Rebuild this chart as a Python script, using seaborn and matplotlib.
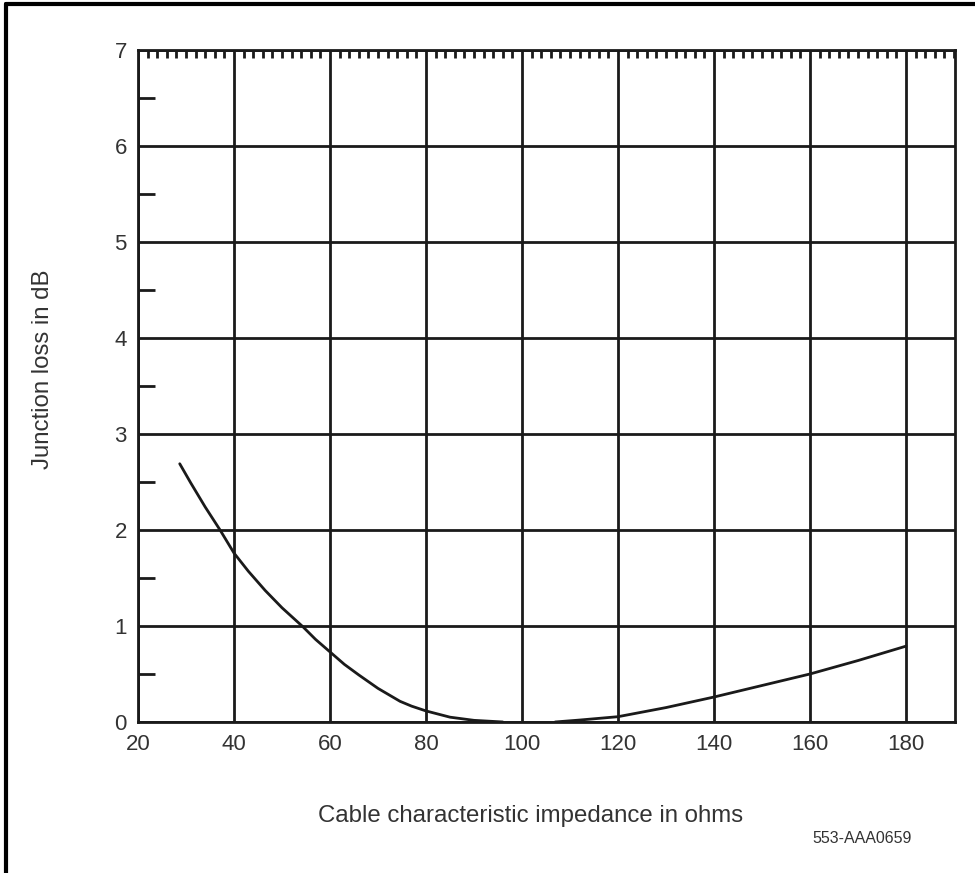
import matplotlib
matplotlib.use('Agg')
import matplotlib.pyplot as plt
import pandas as pd
import seaborn as sns
from matplotlib.lines import Line2D
from matplotlib.ticker import MultipleLocator

# Junction loss curve (two pieces, gap near 100 ohms)
low_ohms = [28.7, 31, 34, 37.1, 40, 43, 46.5, 50, 54.4, 57, 60, 63, 66, 70, 74.6, 77, 80, 85, 90, 96]
low_loss = [2.69, 2.49, 2.24, 2.0, 1.76, 1.57, 1.37, 1.19, 0.99, 0.86, 0.73, 0.6, 0.49, 0.35, 0.215, 0.165, 0.115, 0.05, 0.017, 0.0]
high_ohms = [106.9, 112, 120, 130, 140, 150, 160, 170, 180]
high_loss = [0.0, 0.02, 0.055, 0.15, 0.26, 0.38, 0.5, 0.64, 0.79]

x_ticks = [20, 40, 60, 80, 100, 120, 140, 160, 180]
y_ticks = [0, 1, 2, 3, 4, 5, 6, 7]

df_low = pd.DataFrame({'ohms': low_ohms, 'loss': low_loss})
df_high = pd.DataFrame({'ohms': high_ohms, 'loss': high_loss})

sns.set_theme(style='white')
plt.rcParams['font.family'] = ['Liberation Sans', 'DejaVu Sans']

ink = '#1a1a1a'
text_col = '#333333'

fig = plt.figure(figsize=(9.75, 8.73), dpi=100)
ax = fig.add_axes([0.1415, 0.173, 0.838, 0.7697])

sns.lineplot(data=df_low, x='ohms', y='loss', ax=ax, color=ink, linewidth=2, sort=False)
sns.lineplot(data=df_high, x='ohms', y='loss', ax=ax, color=ink, linewidth=2, sort=False)

ax.set_xlim(20, 190.2)
ax.set_ylim(0, 7)
ax.set_xticks(x_ticks)
ax.set_yticks(y_ticks)
ax.xaxis.set_minor_locator(MultipleLocator(2))
ax.yaxis.set_minor_locator(MultipleLocator(0.5))

ax.grid(True, which='major', color=ink, linewidth=2)
ax.set_axisbelow(True)

for s in ax.spines.values():
    s.set_color(ink)
    s.set_linewidth(2)

ax.tick_params(axis='both', which='major', length=0, labelsize=16, labelcolor=text_col)
ax.tick_params(axis='x', which='major', pad=9)
ax.tick_params(axis='y', which='major', pad=8)
ax.tick_params(axis='x', which='minor', bottom=False, top=True, direction='in',
               length=6, width=2, color=ink)
ax.tick_params(axis='y', which='minor', left=True, right=False, direction='in',
               length=12, width=2, color=ink)

ax.set_xlabel('Cable characteristic impedance in ohms', fontsize=17.3, color=text_col)
ax.set_ylabel('Junction loss in dB', fontsize=17.3, color=text_col)
ax.xaxis.set_label_coords(0.48, -0.124)
ax.yaxis.set_label_coords(-0.103, 0.525)

fig.text(0.935, 0.040, '553-AAA0659', ha='right', va='center', fontsize=11.5, color=text_col)

# page frame (left and top edges)
fig.add_artist(Line2D([0.0062, 0.0062], [0, 0.995], color='black', linewidth=3))
fig.add_artist(Line2D([0.0062, 1.0], [0.995, 0.995], color='black', linewidth=3))

fig.savefig('out.png', dpi=100)
